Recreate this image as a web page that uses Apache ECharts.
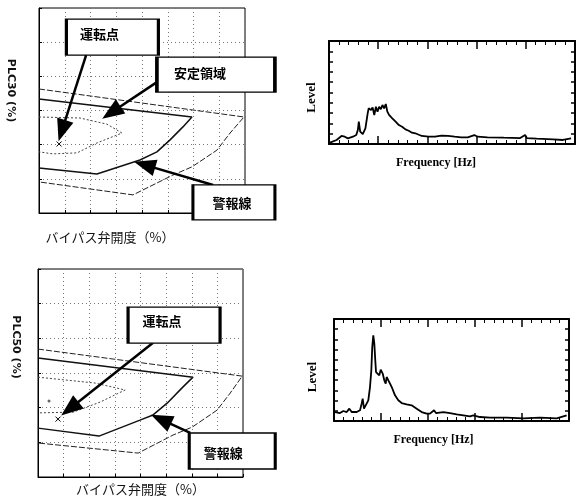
<!DOCTYPE html>
<html>
<head>
<meta charset="utf-8">
<script src="https://cdn.jsdelivr.net/npm/echarts@6/dist/echarts.min.js"></script>
<style>
html, body { margin: 0; padding: 0; background: #fff; }
#chart { width: 576px; height: 500px; }
</style>
</head>
<body>
<div id="chart"></div>
<script>
// 上段マップ (x: バイパス弁開度 0-8, y: PLC 0-6)
const topOuter = [[0, 3.63], [7.96, 2.81], [7.42, 2.34], [6.91, 1.84], [5.94, 1.35], [5.2, 1.11], [3.65, 0.53], [0, 0.91]];
const topMiddle = [[0, 3.34], [5.94, 2.81], [5.59, 2.52], [5.09, 2.14], [4.58, 1.79], [3.92, 1.55], [2.25, 1.14], [0, 1.32]];
const topInner = [[0, 2.81], [1.59, 2.78], [2.64, 2.6], [3.22, 2.34], [2.25, 2.05], [1.48, 1.76], [0.54, 1.73], [0, 1.79]];
const topPoint = [[0.78, 2.02]];
const topNotes = [
    { name: "運転点", value: [2.85, 5.15] },
    { name: "安定領域", value: [6.87, 4.05] },
    { name: "警報線", value: [7.57, 0.31] },
];
const topArrows = [
    [[1.83, 4.62], [0.89, 2.41]],
    [[4.58, 3.83], [2.81, 2.94]],
    [[6.76, 0.82], [4.1, 1.41]],
];

// 下段マップ
const botOuter = [[0, 3.69], [7.97, 2.91], [7.5, 2.42], [6.99, 1.93], [6.02, 1.44], [5.27, 1.21], [3.91, 0.69], [0, 0.98]];
const botMiddle = [[0, 3.43], [6.05, 2.88], [5.66, 2.6], [5.04, 2.13], [4.49, 1.79], [3.98, 1.64], [2.38, 1.18], [0, 1.41]];
const botInner = [[0, 2.88], [2.23, 2.71], [3.4, 2.51], [2.42, 2.16], [1.37, 1.87], [0, 1.85]];
const botPoint = [[0.78, 1.67]];
const botDot = [[0.43, 2.19]];
const botNotes = [
    { name: "運転点", value: [5.31, 4.38] },
    { name: "警報線", value: [7.58, 0.75] },
];
const botArrows = [
    [[4.49, 3.87], [1.24, 1.97]],
    [[5.94, 1.27], [4.8, 1.66]],
];

// スペクトル (周波数は目盛なしの相対値 0-250, Level 0-10)
const topSpecFreq = [1, 7.7, 12.7, 16, 19.3, 24.3, 27.7, 29.3, 30.3, 31.7, 34.3, 37, 39.3, 40.3, 42.7, 44.3, 46, 47.7, 49.3, 51, 52.7, 54.3, 56, 57.7, 59.3, 61, 64.3, 67.7, 71, 74.3, 77.7, 81, 84.3, 87.7, 94.3, 101, 107.7, 114.3, 121, 127.7, 134.3, 141, 147.7, 149.3, 151, 161, 177.7, 194.3, 199.3, 201, 211, 227.7, 237.7, 246];
const topSpecLevel = [0.13, 0.39, 0.78, 0.71, 0.55, 0.71, 0.87, 1.36, 2.17, 1.2, 0.97, 1.52, 2.98, 3.46, 3.3, 3.56, 2.82, 3.62, 3.14, 3.62, 3.37, 3.79, 3.46, 3.88, 3.14, 2.82, 2.49, 2.17, 1.84, 1.68, 1.42, 1.29, 1.1, 1.04, 0.78, 0.71, 0.71, 0.81, 0.78, 0.71, 0.65, 0.65, 0.87, 0.97, 0.71, 0.65, 0.61, 0.58, 0.87, 0.58, 0.52, 0.45, 0.39, 0.55];
const botSpecFreq = [1.06, 2.8, 6.4, 9.9, 13.5, 16.3, 18.8, 24.1, 27.7, 29.4, 30.5, 31.9, 34, 36.5, 38.3, 39.7, 40.7, 41.8, 42.9, 43.9, 44.7, 46.1, 48.2, 49.7, 51.8, 53.5, 55, 56, 57.8, 59.6, 61.4, 64.9, 68.4, 72, 77.3, 82.6, 84.4, 88, 93.3, 98.6, 102.1, 106.4, 108.5, 116.3, 123.4, 130.5, 137.6, 144.7, 148.2, 150, 155.3, 166, 183.7, 201.4, 219.1, 236.9, 247.5];
const botSpecLevel = [0.88, 1.05, 0.78, 0.98, 0.88, 1.21, 0.88, 0.88, 1.05, 1.7, 2.19, 1.21, 1.37, 2.03, 3.33, 4.97, 7.25, 8.4, 7.59, 5.95, 4.8, 4.97, 4.48, 5.04, 4.65, 3.99, 3.67, 4.31, 4.48, 3.67, 3.33, 2.52, 2.03, 1.76, 1.64, 1.54, 1.44, 1.21, 0.88, 0.72, 0.72, 1.05, 0.78, 0.88, 0.78, 0.66, 0.56, 0.46, 0.56, 0.66, 0.39, 0.33, 0.33, 0.26, 0.33, 0.26, 0.56];

const jp = "Noto Sans CJK JP";
const serif = "Liberation Serif";

const zip = (xs, ys) => xs.map((x, i) => [x, ys[i]]);

// 左側マップの軸
const mapXAxis = (gridIndex, gap, padRight) => ({
    gridIndex: gridIndex,
    type: "value",
    min: 0,
    max: 8,
    interval: 1,
    name: "バイパス弁開度（%）",
    nameLocation: "middle",
    nameGap: gap,
    nameTextStyle: { fontFamily: jp, fontSize: 13, color: "#111", padding: [0, padRight, 0, 0] },
    axisLine: { show: true, onZero: false, lineStyle: { color: "#000", width: 1 } },
    axisTick: { show: true, inside: true, length: 3, lineStyle: { color: "#000" } },
    axisLabel: { show: false },
    splitLine: { show: true, lineStyle: { color: "#777", type: [1, 3], width: 1 } },
});
const mapYAxis = (gridIndex, name, gap, padRight) => ({
    gridIndex: gridIndex,
    type: "value",
    min: 0,
    max: 6,
    interval: 1,
    name: name,
    nameLocation: "middle",
    nameRotate: -90,
    nameGap: gap,
    nameTextStyle: { fontFamily: "DejaVu Sans", fontWeight: "bold", fontSize: 11, color: "#111", padding: [0, padRight, 0, 0] },
    axisLine: { show: true, onZero: false, lineStyle: { color: "#000", width: 1 } },
    axisTick: { show: true, inside: true, length: 3, lineStyle: { color: "#000" } },
    axisLabel: { show: false },
    splitLine: { show: true, lineStyle: { color: "#777", type: [1, 3], width: 1 } },
});

// スペクトルの軸 (上下左右に目盛)
const specXAxis = (gridIndex, position, name, padRight) => ({
    gridIndex: gridIndex,
    position: position,
    type: "value",
    min: 0,
    max: 250,
    interval: 50,
    name: name,
    nameLocation: "middle",
    nameGap: 13,
    nameTextStyle: { fontFamily: serif, fontWeight: "bold", fontSize: 12, color: "#000", padding: [0, padRight, 0, 0] },
    axisLine: { show: true, onZero: false, lineStyle: { color: "#000", width: 2 } },
    axisTick: { show: true, inside: true, length: 8, lineStyle: { color: "#000", width: 1.5 } },
    minorTick: { show: true, splitNumber: 5, length: 4, lineStyle: { color: "#000", width: 1 } },
    axisLabel: { show: false },
    splitLine: { show: false },
});
const specYAxis = (gridIndex, position, name, gap, padRight) => ({
    gridIndex: gridIndex,
    position: position,
    type: "value",
    min: 0,
    max: 10,
    interval: 1,
    name: name,
    nameLocation: "middle",
    nameGap: gap,
    nameTextStyle: { fontFamily: serif, fontWeight: "bold", fontSize: 13, color: "#000", padding: [0, padRight, 0, 0] },
    axisLine: { show: true, onZero: false, lineStyle: { color: "#000", width: 2 } },
    axisTick: { show: true, inside: true, length: 4, lineStyle: { color: "#000", width: 1.5 } },
    axisLabel: { show: false },
    splitLine: { show: false },
});

const contour = (axis, data, style) => ({
    type: "line",
    xAxisIndex: axis,
    yAxisIndex: axis,
    data: data,
    showSymbol: false,
    silent: true,
    lineStyle: style,
});
const outerStyle = { color: "#222", width: 1, type: [6, 2] };
const middleStyle = { color: "#111", width: 1.5 };
const innerStyle = { color: "#444", width: 1, type: [2, 2] };

const marker = (axis, data) => ({
    type: "scatter",
    xAxisIndex: axis,
    yAxisIndex: axis,
    data: data,
    symbol: "path://M0,0L10,10M10,0L0,10",
    symbolSize: 5,
    silent: true,
    itemStyle: { color: "transparent", borderColor: "#000", borderWidth: 1, opacity: 1 },
});

// 注記の枠と矢印: sizes は枠の大きさ, offsets は文字のずれ
const notes = (axis, data, sizes, offsets, arrows) => ({
    type: "scatter",
    xAxisIndex: axis,
    yAxisIndex: axis,
    clip: false,
    z: 5,
    silent: true,
    data: data.map((n, i) => ({
        name: n.name,
        value: n.value,
        symbolSize: sizes[i],
        label: { offset: offsets[i] },
    })),
    symbol: "rect",
    itemStyle: { color: "#fff", borderColor: "#000", borderWidth: 2, opacity: 1 },
    label: {
        show: true,
        position: "inside",
        formatter: "{b}",
        fontFamily: jp,
        fontWeight: "bold",
        fontSize: 13,
        color: "#000",
        textBorderWidth: 0,
    },
    markLine: {
        silent: true,
        symbol: ["none", "triangle"],
        symbolSize: [17, 22],
        label: { show: false },
        lineStyle: { color: "#000", width: 2.5, type: "solid", opacity: 1 },
        data: arrows.map((a) => [{ coord: a[0] }, { coord: a[1] }]),
    },
});

const spectrum = (axis, freq, level) => ({
    type: "line",
    xAxisIndex: axis,
    yAxisIndex: axis,
    data: zip(freq, level),
    showSymbol: false,
    silent: true,
    lineStyle: { color: "#000", width: 1.8 },
});

const chartDom = document.getElementById("chart");
const myChart = echarts.init(chartDom);

const option = {
    animation: false,
    backgroundColor: "#fff",
    grid: [
        { left: 39, top: 8, width: 206, height: 205, show: true, borderColor: "#000", borderWidth: 1 },
        { left: 329, top: 41, width: 246, height: 103 },
        { left: 38, top: 269, width: 205, height: 208, show: true, borderColor: "#000", borderWidth: 1 },
        { left: 334, top: 319, width: 235, height: 102 },
    ],
    xAxis: [
        mapXAxis(0, 18, 64),
        specXAxis(1, "bottom", "Frequency [Hz]", 32),
        specXAxis(1, "top", "", 0),
        mapXAxis(2, 6, 0),
        specXAxis(3, "bottom", "Frequency [Hz]", 36),
        specXAxis(3, "top", "", 0),
    ],
    yAxis: [
        mapYAxis(0, "PLC30 (%)", 23, 40),
        specYAxis(1, "left", "Level", 11, 10),
        specYAxis(1, "right", "", 0, 0),
        mapYAxis(2, "PLC50 (%)", 17, 52),
        specYAxis(3, "left", "Level", 15, 14),
        specYAxis(3, "right", "", 0, 0),
    ],
    series: [
        contour(0, topOuter, outerStyle),
        contour(0, topMiddle, middleStyle),
        contour(0, topInner, innerStyle),
        marker(0, topPoint),
        notes(0, topNotes, [[92, 36], [118, 35], [82, 35]], [[-13, -3], [-16, -2], [-2, 1]], topArrows),
        spectrum(1, topSpecFreq, topSpecLevel),
        contour(3, botOuter, outerStyle),
        contour(3, botMiddle, middleStyle),
        contour(3, botInner, innerStyle),
        marker(3, botPoint),
        {
            type: "scatter",
            xAxisIndex: 3,
            yAxisIndex: 3,
            data: botDot,
            symbolSize: 3,
            silent: true,
            itemStyle: { color: "#666", opacity: 1 },
        },
        notes(3, botNotes, [[92, 36], [86, 36]], [[-12, -4], [-9, 2]], botArrows),
        spectrum(4, botSpecFreq, botSpecLevel),
    ],
};

myChart.setOption(option);
</script>
</body>
</html>
